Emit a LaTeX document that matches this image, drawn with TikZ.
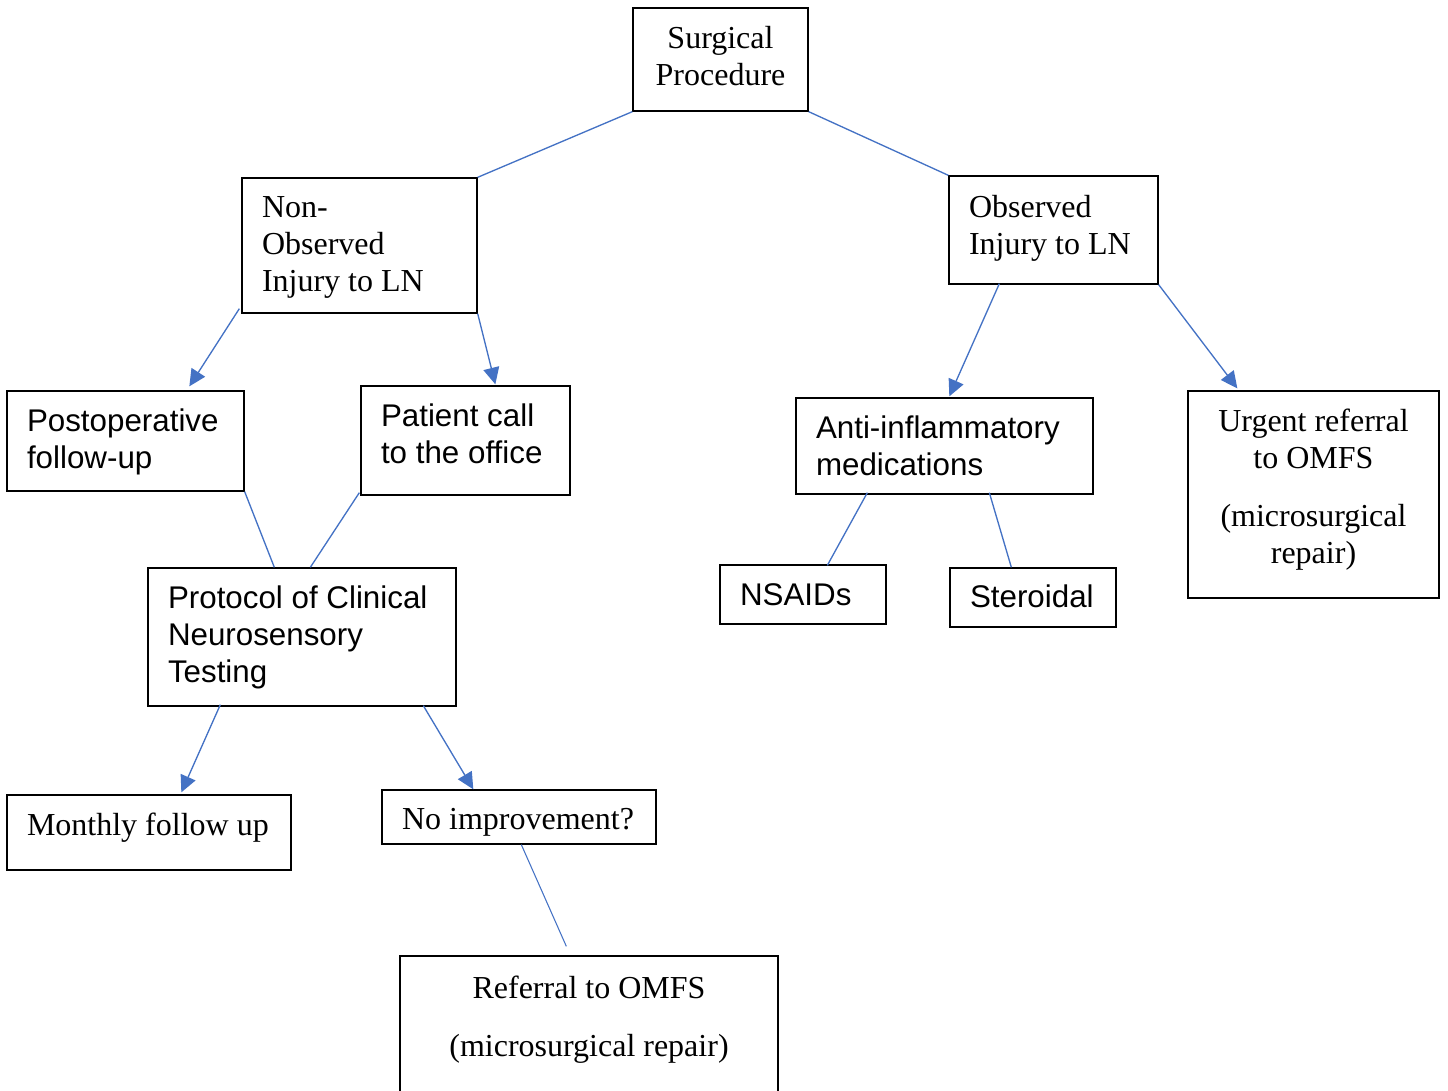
\documentclass[tikz,border=0pt]{standalone}
\usepackage{fontspec}
\setmainfont{Liberation Serif}
\setsansfont{Liberation Sans}
\usetikzlibrary{arrows.meta,calc}
\definecolor{lineblue}{HTML}{4472C4}
\newcommand\lne[1]{\mbox{#1}}
\begin{document}
\begin{tikzpicture}[x=0.75pt,y=-0.75pt,
  box/.style={draw, line width=1pt, inner xsep=15pt, inner ysep=0pt, align=flush left},
  cbox/.style={draw, line width=1pt, inner xsep=15pt, inner ysep=0pt, align=flush center},
  serif/.style={font=\rmfamily\fontsize{24}{27.75}\selectfont},
  sansf/.style={font=\sffamily\fontsize{23.5}{27.75}\selectfont},
  bl/.style 2 args={text height=#1, text depth=#2},
  link/.style={draw=lineblue, line width=1pt},
  arr/.style={link, -{Triangle[length=12.5pt,width=12pt]}}]
\useasboundingbox (0,0) rectangle (1448,1091);

\node[cbox,serif,text width=101.25pt,minimum height=77.25pt,bl={0pt}{16.2pt}] (sp) at (720.5,59.5) {Surgical\\Procedure};
\node[box,serif,text width=146.25pt,minimum height=101.25pt,bl={0pt}{41.25pt}] (nobs) at (359.5,245.5) {\lne{Non-}\\ \lne{Observed}\\ \lne{Injury to LN}};
\node[box,serif,text width=126.75pt,minimum height=81pt,bl={0pt}{18pt}] (obs) at (1053.5,230) {\lne{Observed}\\ \lne{Injury to LN}};
\node[box,sansf,text width=147.75pt,minimum height=75pt,bl={0pt}{13.95pt}] (post) at (125.5,441) {\lne{Postoperative}\\ \lne{follow-up}};
\node[box,sansf,text width=126.75pt,minimum height=81.75pt,bl={0pt}{20.7pt}] (pat) at (465.5,440.5) {\lne{Patient call}\\ \lne{to the office}};
\node[box,sansf,text width=192.75pt,minimum height=72pt,bl={0pt}{12pt}] (anti) at (944.5,446) {\lne{Anti-inflammatory}\\ \lne{medications}};
\node[cbox,serif,text width=158.25pt,minimum height=155.25pt,bl={0pt}{95.25pt}] (urg) at (1313.5,494.5) {\lne{Urgent referral}\\ \lne{to OMFS}\\[15.75pt] \lne{(microsurgical}\\ \lne{repair)}};
\node[box,sansf,text width=94.5pt,minimum height=44.25pt,bl={15.75pt}{0pt}] (nsaid) at (803,594.5) {\lne{NSAIDs}};
\node[box,sansf,text width=94.5pt,minimum height=44.25pt,bl={14.25pt}{0pt}] (ster) at (1033,597.5) {\lne{Steroidal}};
\node[box,sansf,text width=201pt,minimum height=103.5pt,bl={0pt}{43.5pt}] (prot) at (302,637) {\lne{Protocol of Clinical}\\ \lne{Neurosensory}\\ \lne{Testing}};
\node[box,serif,text width=183pt,minimum height=56.25pt,bl={3.75pt}{0pt}] (mon) at (149,832.5) {\lne{Monthly follow up}};
\node[box,serif,text width=175.5pt,minimum height=40.5pt,bl={18pt}{0pt}] (noimp) at (519,817) {\lne{No improvement?}};
\node[cbox,serif,text width=253.5pt,minimum height=112.5pt,bl={0pt}{49.5pt}] (ref) at (589,1031) {\lne{Referral to OMFS}\\[15.75pt] \lne{(microsurgical repair)}};

\draw[link] (sp.south west) -- (nobs.north east);
\draw[link] (sp.south east) -- (obs.north west);
\draw[arr] ($(nobs.south west)+(-2,-5)$) -- ($(post.north west)+(183,-4)$);
\draw[arr] (nobs.south east) -- ($(pat.north west)+(135,-1)$);
\draw[arr] ($(obs.south west)+(51,-1)$) -- ($(anti.north west)+(154,-1)$);
\draw[arr] (obs.south east) -- ($(urg.north west)+(50,-2)$);
\draw[link] (post.south east) -- ($(prot.north west)+(127,0)$);
\draw[link] ($(pat.south west)+(-1,-3)$) -- ($(prot.north west)+(163,0)$);
\draw[link] ($(anti.south west)+(72,-2)$) -- ($(nsaid.north west)+(108,1)$);
\draw[link] ($(anti.south west)+(194,-2)$) -- ($(ster.north west)+(62,0)$);
\draw[arr] ($(prot.south west)+(73,-2)$) -- ($(mon.north west)+(175,-2)$);
\draw[arr] ($(prot.south west)+(276,-1)$) -- ($(noimp.north west)+(92,0)$);
\draw[link, line width=0.8pt] ($(noimp.south west)+(140,0)$) -- ($(ref.north west)+(167,-9)$);
\end{tikzpicture}
\end{document}
